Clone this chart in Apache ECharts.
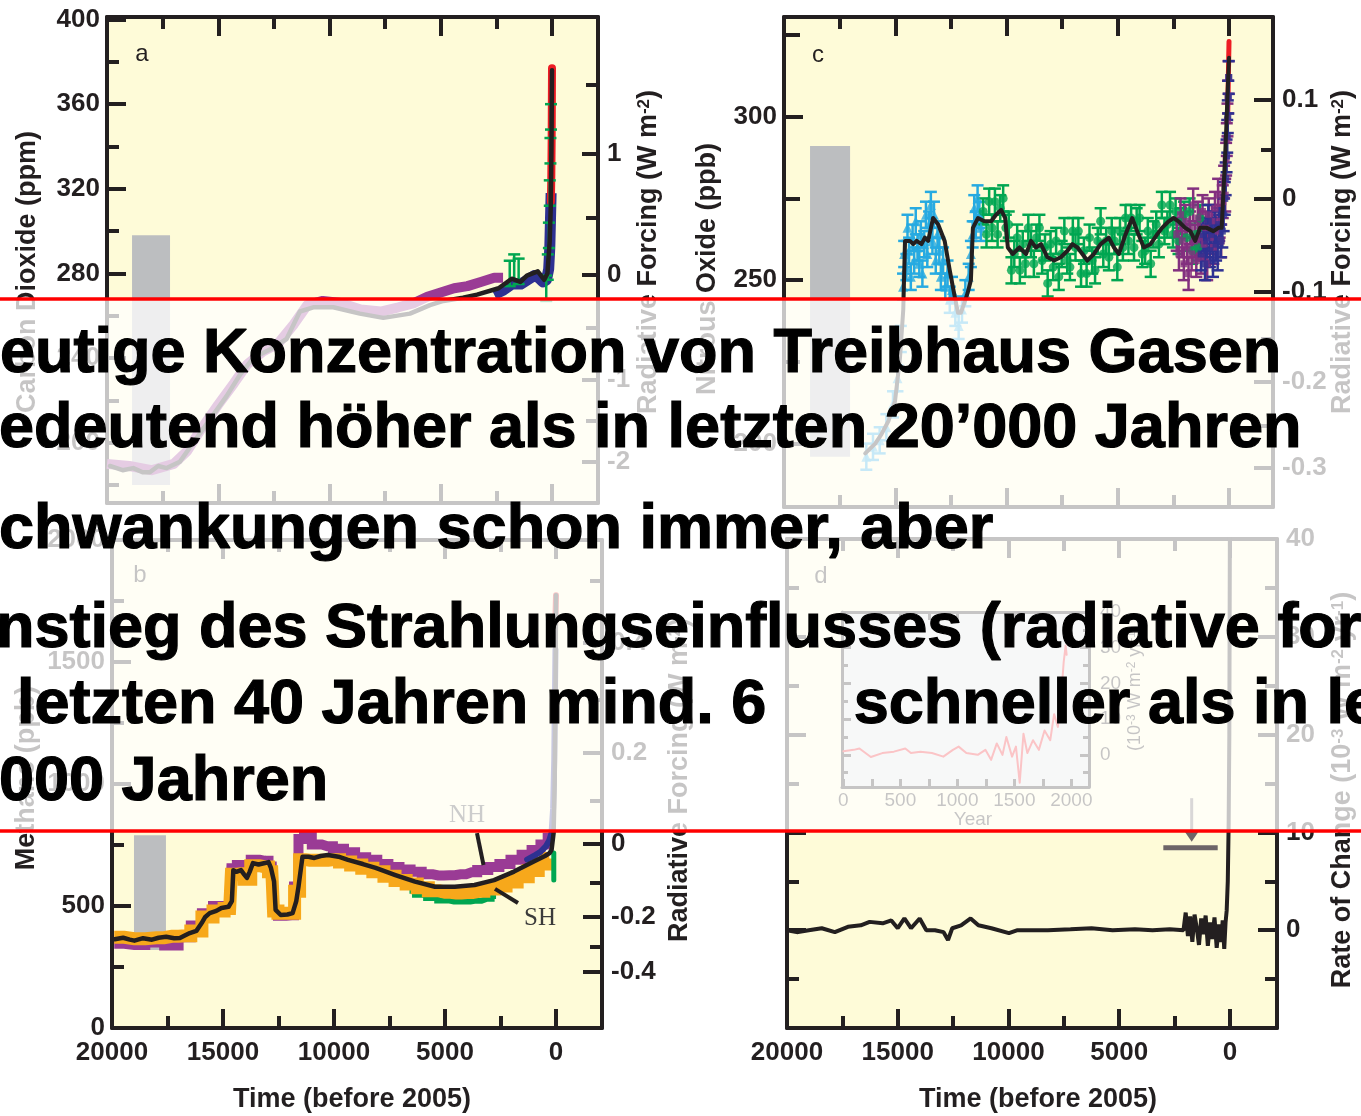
<!DOCTYPE html>
<html lang="de">
<head>
<meta charset="utf-8">
<title>Treibhausgase der letzten 20'000 Jahre</title>
<script src="https://cdn.jsdelivr.net/npm/echarts@6.0.0/dist/echarts.min.js"></script>
<style>
  html, body { margin: 0; padding: 0; background: #ffffff; }
  #chart { width: 1361px; height: 1116px; }
</style>
</head>
<body>
<div id="chart"></div>
<script>
// ---------------- tick values ----------------
const timeMajor = [0, 5000, 10000, 15000, 20000];
const timeMinor = [2500, 7500, 12500, 17500];

const co2Major = [200, 240, 280, 320, 360, 400];
const co2Minor = [180, 220, 260, 300, 340, 380];
const co2ForcingLabels = ['-2', '-1', '0', '1'];
const co2ForcingAt = [190.8, 229.6, 279.3, 336.6];
const co2ForcingMinorAt = [210.6, 254.1, 306.3, 369.3];

const n2oMajor = [200, 250, 300];
const n2oMinor = [225, 275, 325];
const n2oForcingLabels = ['-0.3', '-0.2', '-0.1', '0', '0.1'];
const n2oForcingAt = [192.6, 219.0, 246.3, 275.0, 305.2];
const n2oForcingMinorAt = [205.5, 232.2, 260.1, 289.9];

const ch4Major = [0, 500, 1000, 1500, 2000];
const ch4Minor = [250, 750, 1250, 1750];
const ch4ForcingLabels = ['-0.4', '-0.2', '0', '0.2', '0.4'];
const ch4ForcingAt = [230.7, 455, 754, 1128, 1578];
const ch4ForcingMinorAt = [333.4, 595, 932, 1344, 1832];

const rateMajor = [0, 10, 20, 30, 40];
const rateMinor = [-5, 5, 15, 25, 35];

const yearMajor = [0, 500, 1000, 1500, 2000];
const yearMinor = [250, 750, 1250, 1750];
const insetMajor = [0, 10, 20, 30, 40];
const insetMinor = [-5, 5, 15, 25, 35];

// ---------------- panel a: carbon dioxide (ppm) ----------------
const co2RangeTime = [18875, 17167];
const co2RangeValue = [180, 298];
const co2Time = [19870, 19300, 18820, 18400, 18075, 17700, 17320, 16725, 16125, 15375, 14625, 14030, 13430, 12680, 11930, 11330, 10730, 9830, 8635, 7585, 6385, 5485, 4885, 4000, 3370, 2400, 1810, 1420, 1130, 640, 350, 205, 105, 55, 25, 0];
const co2Value = [189, 187, 188, 186, 186, 189, 188, 191, 200, 211, 222, 232, 240, 244, 249, 262, 264, 264, 261, 259, 261, 265, 267, 268.5, 270, 273, 277.5, 276, 279, 281, 277, 280, 295, 312, 338, 376];
const co2PurpleTime = [20000, 19000, 18000, 17000, 16400, 15800, 15000, 14300, 13700, 13000, 12300, 11600, 11000, 10300, 9500, 8600, 7700, 6900, 6200, 5600, 5000, 4400, 3800, 3200, 2600, 2200];
const co2PurpleValue = [190, 189, 187, 190, 196, 206, 218, 228, 237, 243, 247, 256, 265, 267, 266, 263, 262, 264, 266, 269, 271, 273, 274, 276, 278, 278];
const co2BlueTime = [2600, 2200, 1800, 1400, 1100, 800, 600, 400, 250, 150, 100, 70, 40];
const co2BlueValue = [270, 272, 275, 275, 277, 279, 278, 276, 277, 282, 292, 305, 318];
const co2GreenTime = [1900, 1700, 1500, 260, 190, 140, 100, 70, 45];
const co2GreenValue = [280, 283, 281, 273, 283, 298, 318, 338, 354];
const co2RedTime = [50, 30, 15, 0];
const co2RedValue = [314, 327, 344, 377];

// ---------------- panel c: nitrous oxide (ppb) ----------------
const n2oRangeTime = [18830, 17030];
const n2oRangeValue = [196, 291];
const n2oTime = [16350, 15900, 15610, 15300, 15010, 14790, 14640, 14560, 14340, 14190, 14040, 13820, 13670, 13520, 13300, 13070, 12780, 12550, 12330, 12180, 12050, 11900, 11750, 11600, 11510, 11280, 10990, 10690, 10470, 10240, 10060, 9940, 9720, 9420, 9120, 8900, 8680, 8450, 8160, 7860, 7560, 7260, 7040, 6810, 6590, 6370, 6070, 5770, 5400, 5170, 4950, 4650, 4350, 4130, 3830, 3530, 3230, 3010, 2710, 2490, 2270, 1970, 1740, 1520, 1300, 1000, 700, 480, 330, 250, 180, 120, 60, 0];
const n2oValue = [197, 200, 203, 207, 213, 226, 241, 262, 262, 261, 262, 261, 263, 262, 269, 267, 262, 253, 245, 240, 240, 243, 246, 250, 266, 269, 268, 268, 270, 271.5, 269, 260, 258, 260, 258, 262, 260, 261, 257, 256, 257, 259, 261, 260, 258, 256, 258, 261, 263, 260, 258, 264, 269, 265, 260, 261, 264, 266, 268, 269, 268, 266, 265, 262, 266, 266, 265, 266, 266, 277, 287, 297, 308, 318];
const n2oCyanTime = [16300, 16000, 15700, 15400, 15100, 14900, 14750, 14650, 14600, 14500, 14450, 14380, 14300, 14220, 14150, 14080, 14000, 13920, 13850, 13780, 13700, 13620, 13560, 13480, 13400, 13330, 13260, 13180, 13100, 13020, 12950, 12850, 12750, 12650, 12550, 12450, 12300, 12150, 12000, 11850, 11700, 11600, 11520, 11450, 11380, 11300, 11220, 11150];
const n2oCyanValue = [196, 199, 201, 205, 212, 220, 232, 248, 258, 254, 266, 259, 251, 263, 256, 268, 260, 255, 264, 252, 261, 270, 258, 267, 273, 262, 270, 256, 264, 259, 251, 256, 248, 252, 244, 247, 240, 236, 241, 246, 251, 258, 264, 272, 267, 275, 270, 266];
const n2oGreenTime = [11050, 10900, 10780, 10650, 10520, 10400, 10280, 10150, 10030, 9900, 9780, 9650, 9520, 9400, 9270, 9150, 9020, 8900, 8770, 8650, 8520, 8400, 8270, 8150, 8020, 7900, 7770, 7650, 7520, 7400, 7270, 7150, 7020, 6900, 6770, 6650, 6520, 6400, 6270, 6150, 6020, 5900, 5770, 5650, 5520, 5400, 5270, 5150, 5020, 4900, 4770, 4650, 4520, 4400, 4270, 4150, 4020, 3900, 3770, 3650, 3520, 3400, 3270, 3150, 3020, 2900, 2770, 2650, 2520, 2400, 2270, 2150, 2020, 1900, 1770, 1650, 1520, 1400, 1300];
const n2oGreenValue = [271, 264, 274, 266, 274, 264, 272, 275, 266, 267, 253, 258, 263, 253, 261, 255, 266, 261, 255, 263, 266, 256, 260, 249, 261, 254, 262, 251, 258, 265, 256, 254, 265, 260, 265, 252, 259, 252, 263, 256, 253, 262, 268, 258, 262, 257, 265, 262, 254, 265, 260, 269, 262, 269, 260, 268, 269, 258, 259, 265, 255, 264, 267, 261, 273, 265, 267, 273, 264, 271, 262, 268, 270, 263, 271, 259, 264, 260, 269];
const n2oPurpleTime = [2350, 2250, 2180, 2100, 2030, 1960, 1890, 1820, 1750, 1680, 1610, 1540, 1470, 1400, 1330, 1260, 1190, 1120, 1050, 980, 910, 840, 770, 700, 630, 560, 490, 420, 350, 280, 220, 170, 130, 100, 70, 45, 20];
const n2oPurpleValue = [264, 258, 270, 262, 255, 268, 260, 252, 266, 258, 273, 262, 256, 269, 263, 257, 271, 261, 266, 255, 270, 263, 268, 260, 272, 265, 276, 268, 262, 274, 280, 276, 287, 293, 299, 306, 312];
const n2oBlueTime = [1250, 1150, 1080, 1000, 930, 860, 790, 720, 650, 580, 510, 440, 370, 300, 240, 190, 150, 110, 80, 55, 30, 10];
const n2oBlueValue = [258, 264, 255, 262, 268, 259, 264, 256, 266, 261, 258, 267, 262, 265, 270, 275, 281, 288, 294, 300, 306, 312];
const n2oRedTime = [60, 30, 0];
const n2oRedValue = [300, 312, 323];

// ---------------- panel b: methane (ppb) ----------------
const ch4RangeTime = [19010, 17570];
const ch4RangeValue = [320, 790];
const ch4Time = [19880, 19500, 19200, 18990, 18600, 18200, 17900, 17560, 17200, 16940, 16700, 16495, 16200, 15960, 15800, 15600, 15300, 15070, 14750, 14600, 14535, 14400, 14190, 14050, 13920, 13800, 13650, 13400, 13110, 12950, 12840, 12700, 12630, 12400, 12100, 11865, 11700, 11600, 11420, 11150, 10885, 10600, 10270, 9800, 9370, 8700, 8125, 7235, 6350, 5450, 4560, 3670, 2790, 1890, 1000, 500, 288, 200, 108, 60, 20, 0];
const ch4Value = [364, 370, 362, 358, 368, 362, 370, 374, 368, 369, 380, 389, 398, 430, 455, 471, 480, 492, 497, 520, 647, 640, 647, 630, 615, 640, 676, 670, 676, 680, 656, 600, 484, 463, 465, 471, 520, 579, 702, 702, 697, 705, 709, 702, 689, 672, 656, 627, 600, 579, 579, 586, 606, 641, 682, 705, 717, 730, 799, 1000, 1400, 1774];
const ch4ShTime = [19900, 19000, 18000, 17300, 16700, 16200, 15700, 15200, 14700, 14550, 14200, 13900, 13600, 13100, 12800, 12650, 12400, 11900, 11650, 11450, 11100, 10500, 10000, 9500, 9000, 8500, 8000, 7500, 7000, 6500, 6000, 5500, 5000, 4500, 4000, 3500, 3000, 2500, 2000, 1500, 1000, 600, 300];
const ch4ShValue = [372, 366, 370, 376, 378, 398, 455, 480, 490, 630, 632, 610, 665, 660, 640, 480, 470, 470, 560, 690, 688, 688, 690, 680, 668, 655, 640, 622, 605, 590, 575, 562, 556, 553, 555, 560, 570, 582, 598, 620, 645, 672, 695];
const ch4NhTime = [19900, 19000, 18000, 17300, 16700, 16200, 15700, 15200, 14700, 14550, 14200, 13900, 13600, 13100, 12800, 12650, 12400, 11900, 11700, 11500, 11200, 10800, 10300, 9800, 9300, 8800, 8300, 7800, 7300, 6800, 6300, 5800, 5300, 4800, 4300, 3800, 3300, 2800, 2300, 1800, 1300, 900, 500, 250];
const ch4NhValue = [345, 340, 350, 338, 372, 420, 470, 500, 505, 655, 668, 640, 690, 685, 662, 478, 460, 462, 580, 775, 790, 752, 745, 735, 720, 700, 690, 672, 660, 650, 640, 630, 625, 626, 630, 638, 648, 660, 672, 690, 710, 730, 752, 780];
const ch4GreenTime = [6600, 6100, 5600, 5100, 4600, 4100, 3600, 3100, 2700];
const ch4GreenValue = [562, 546, 533, 523, 518, 518, 522, 530, 541];
const ch4GreenRecentTime = [100, 100];
const ch4GreenRecentValue = [607, 717];
const ch4BlueTime = [1300, 1000, 700, 450, 300, 200, 130, 80, 50, 25];
const ch4BlueValue = [690, 705, 722, 745, 770, 800, 900, 1100, 1350, 1550];
const ch4RedTime = [40, 20, 0];
const ch4RedValue = [1650, 1700, 1774];
const hemiNames = ['NH', 'SH'];
const hemiTime = [4010, 720];
const hemiValue = [873, 451];
const hemiLeaders = [[3559, 799, 3266, 668], [2748, 570, 1712, 512]];

// ---------------- panel d: rate of change (1e-3 W m-2 yr-1) ----------------
const rateTime = [20000, 19500, 19020, 18430, 17840, 17250, 16670, 16270, 15680, 15290, 15000, 14700, 14400, 14010, 13710, 13320, 12930, 12730, 12540, 12140, 11710, 11360, 10770, 9980, 9590, 8220, 7200, 6250, 5300, 4290, 3500, 2720, 2100, 2000, 1900, 1800, 1700, 1600, 1500, 1400, 1300, 1200, 1100, 1000, 900, 800, 700, 600, 500, 400, 330, 260, 200, 150, 100, 60, 30, 0];
const rateValue = [0, -0.2, 0, 0.2, -0.2, 0.35, 0.5, 0.85, 0.7, 1.0, 0.2, 1.2, 0.2, 1.2, 0, 0, -0.2, -1.0, 0.2, 0.5, 1.2, 0.5, 0.2, -0.3, 0, 0, 0.1, 0.2, 0, 0.1, 0, 0.1, 0, 1.8, -0.6, 1.4, -1.2, 1.6, 0.2, -1.5, 1.2, -0.4, 1.5, -1.6, 0.8, -0.9, 1.3, -1.8, 0.6, -1.2, 1.0, -1.9, 0.8, 2.0, 5, 11, 20, 45];
const rateBarTime = [3010, 555];
const rateBarValue = 8.44;
const rateArrowTime = 1730;
const rateArrowValue = [13.5, 10.1, 9.05];

// inset: rate of change over the last two millennia
const insetYear = [0, 91, 141, 241, 342, 443, 543, 593, 676, 777, 877, 961, 1011, 1079, 1179, 1246, 1296, 1346, 1396, 1430, 1480, 1514, 1547, 1580, 1614, 1664, 1715, 1765, 1815, 1849, 1882, 1916, 1933, 1950, 1959];
const insetRate = [1.0, 1.4, 1.8, -0.6, 0.5, 0.9, 1.8, 0.5, 0.9, 0.5, -0.5, 1.4, 2.3, 0.5, 0, 1.4, -1.4, 3.2, 0, 5.0, -0.5, 2.3, -7.8, 5.9, 0.5, 4.1, 1.4, 6.8, 4.1, 11.4, 7.8, 18.7, 26, 30.6, 28];

// ---------------- styling ----------------
const INK = '#231f20';
const SANS = '"Liberation Sans", Arial, Helvetica, sans-serif';
const SERIF = '"Liberation Serif", "Times New Roman", serif';
const PLOT_BG = '#fefbd8';
const GRAY_BAR = '#bcbec0';
const C = {
  purple: '#9a3b95', darkPurple: '#83307f', blue: '#2e3192', green: '#00a651',
  cyan: '#27aae1', red: '#ed1c24', orange: '#f7a81b'
};

const zip = (a, b) => a.map((t, i) => [t, b[i]]);
const labelFont = { color: INK, fontFamily: SANS, fontWeight: 'bold', fontSize: 26 };
const tickStyle = (len, w) => ({ show: true, inside: true, length: len, lineStyle: { color: INK, width: w || 4 } });
const pickLabel = (at, labels) => v => {
  let k = 0, d = Infinity;
  at.forEach((a, i) => { const dd = Math.abs(a - v); if (dd < d) { d = dd; k = i; } });
  return labels[k];
};

const xAxis = [];
const yAxis = [];

function timeAxes(grid, min, max, withLabels) {
  const first = xAxis.length;
  const base = { type: 'value', gridIndex: grid, min, max, inverse: true, splitLine: { show: false } };
  ['bottom', 'top'].forEach(pos => {
    xAxis.push(Object.assign({}, base, {
      position: pos,
      axisLine: { show: true, onZero: false, lineStyle: { color: INK, width: 4 } },
      axisTick: Object.assign(tickStyle(19), { customValues: timeMajor }),
      axisLabel: (pos === 'bottom' && withLabels)
        ? Object.assign({ show: true, customValues: timeMajor, margin: 12, formatter: v => String(v) }, labelFont)
        : { show: false }
    }));
    xAxis.push(Object.assign({}, base, {
      position: pos,
      axisLine: { show: false, onZero: false },
      axisTick: Object.assign(tickStyle(12), { customValues: timeMinor }),
      axisLabel: { show: false }
    }));
  });
  return first;
}

function valueAxes(grid, min, max, sides) {
  const first = yAxis.length;
  const base = { type: 'value', gridIndex: grid, min, max, splitLine: { show: false } };
  ['left', 'right'].forEach(pos => {
    const cfg = sides[pos];
    yAxis.push(Object.assign({}, base, {
      position: pos,
      axisLine: { show: true, onZero: false, lineStyle: { color: INK, width: cfg.lineWidth || 4 } },
      axisTick: Object.assign(tickStyle(cfg.majorLen || 19, cfg.tickWidth), { customValues: cfg.major }),
      axisLabel: cfg.labels
        ? Object.assign({ show: true, customValues: cfg.labels, margin: cfg.margin || 7, formatter: cfg.fmt || (v => String(v)) }, cfg.font || labelFont)
        : { show: false }
    }));
    yAxis.push(Object.assign({}, base, {
      position: pos,
      axisLine: { show: false, onZero: false },
      axisTick: Object.assign(tickStyle(cfg.minorLen || 12, cfg.tickWidth), { customValues: cfg.minor }),
      axisLabel: { show: false }
    }));
  });
  return first;
}

// ---------------- grids ----------------
const grids = [
  { left: 107, top: 17, width: 491, height: 486 },   // a
  { left: 784, top: 17, width: 489, height: 490 },   // c
  { left: 112, top: 540, width: 490, height: 488 },  // b
  { left: 787, top: 539, width: 490, height: 489 },  // d
  { left: 842, top: 612, width: 247, height: 175 }   // inset in d
].map((g, i) => Object.assign({
  show: true, backgroundColor: i === 4 ? '#e1e2e4' : PLOT_BG, borderWidth: 0,
  containLabel: false, outerBoundsMode: 'none'
}, g));

// panel a
const axA = timeAxes(0, -2067, 20000, false);
const ayA = valueAxes(0, 171.5, 401.2, {
  left: { major: co2Major, minor: co2Minor, labels: co2Major },
  right: { major: co2ForcingAt, minor: co2ForcingMinorAt, labels: co2ForcingAt, fmt: pickLabel(co2ForcingAt, co2ForcingLabels), margin: 9, majorLen: 16 }
});
// panel c
const axC = timeAxes(1, -1977, 20000, false);
const ayC = valueAxes(1, 180.6, 330.5, {
  left: { major: n2oMajor, minor: n2oMinor, labels: n2oMajor, minorLen: 16 },
  right: { major: n2oForcingAt, minor: n2oForcingMinorAt, labels: n2oForcingAt, fmt: pickLabel(n2oForcingAt, n2oForcingLabels), margin: 9 }
});
// panel b
const axB = timeAxes(2, -2072, 20000, true);
const ayB = valueAxes(2, 0, 2000, {
  left: { major: ch4Major, minor: ch4Minor, labels: ch4Major },
  right: { major: ch4ForcingAt, minor: ch4ForcingMinorAt, labels: ch4ForcingAt, fmt: pickLabel(ch4ForcingAt, ch4ForcingLabels), margin: 9 }
});
// panel d
const axD = timeAxes(3, -2122, 20000, true);
const ayD = valueAxes(3, -10, 40, {
  left: { major: rateMajor, minor: rateMinor },
  right: { major: rateMajor, minor: rateMinor, labels: rateMajor, margin: 9 }
});
// inset
const insetFont = { color: INK, fontFamily: SANS, fontWeight: 'normal', fontSize: 19 };
const axI = xAxis.length;
['bottom', 'top'].forEach(pos => {
  xAxis.push({
    type: 'value', gridIndex: 4, min: -12, max: 2155, position: pos, splitLine: { show: false },
    axisLine: { show: true, onZero: false, lineStyle: { color: INK, width: 3 } },
    axisTick: Object.assign(tickStyle(8, 3), { customValues: yearMajor.concat(yearMinor) }),
    axisLabel: pos === 'bottom'
      ? Object.assign({ show: true, customValues: yearMajor, margin: 4, formatter: v => String(v) }, insetFont)
      : { show: false }
  });
});
const ayI = valueAxes(4, -9, 40, {
  left: { major: insetMajor, minor: insetMinor, majorLen: 9, minorLen: 6, lineWidth: 3, tickWidth: 3 },
  right: { major: insetMajor, minor: insetMinor, majorLen: 9, minorLen: 6, lineWidth: 3, tickWidth: 3,
           labels: insetMajor, margin: 11, font: insetFont }
});

// ---------------- series helpers ----------------
function line(xi, yi, times, values, color, width, extra) {
  return Object.assign({
    type: 'line', xAxisIndex: xi, yAxisIndex: yi, data: zip(times, values),
    symbol: 'none', silent: true, animation: false, z: 3,
    lineStyle: { color, width, join: 'round', cap: 'round' }
  }, extra || {});
}
function band(xi, yi, times, values, color, width) {
  return line(xi, yi, times, values, color, width, { step: 'middle', lineStyle: { color, width, join: 'miter', cap: 'butt' } });
}
function rangeBox(xi, yi, times, values) {
  return {
    type: 'custom', xAxisIndex: xi, yAxisIndex: yi, silent: true, clip: true, z: 1,
    data: [[times[0], times[1], values[0], values[1]]],
    renderItem: (p, api) => {
      const a = api.coord([api.value(0), api.value(3)]);
      const b = api.coord([api.value(1), api.value(2)]);
      return { type: 'rect', shape: { x: Math.min(a[0], b[0]), y: Math.min(a[1], b[1]), width: Math.abs(b[0] - a[0]), height: Math.abs(b[1] - a[1]) }, style: { fill: GRAY_BAR } };
    }
  };
}
function errorBars(xi, yi, times, values, err, color, cap, lw) {
  return {
    type: 'custom', xAxisIndex: xi, yAxisIndex: yi, silent: true, clip: true, z: 4,
    data: zip(times, values),
    renderItem: (p, api) => {
      const t = api.value(0), v = api.value(1);
      const hi = api.coord([t, v + err]);
      const lo = api.coord([t, v - err]);
      const x = hi[0];
      const st = { stroke: color, lineWidth: lw };
      return { type: 'group', children: [
        { type: 'line', shape: { x1: x, y1: hi[1], x2: x, y2: lo[1] }, style: st },
        { type: 'line', shape: { x1: x - cap, y1: hi[1], x2: x + cap, y2: hi[1] }, style: st },
        { type: 'line', shape: { x1: x - cap, y1: lo[1], x2: x + cap, y2: lo[1] }, style: st }
      ] };
    }
  };
}
function markers(xi, yi, times, values, color, symbol, size) {
  return {
    type: 'scatter', xAxisIndex: xi, yAxisIndex: yi, data: zip(times, values), silent: true, z: 4,
    symbol, symbolSize: size, itemStyle: { color }, animation: false
  };
}
function segments(xi, yi, segs, color, width) {
  return {
    type: 'custom', xAxisIndex: xi, yAxisIndex: yi, silent: true, clip: true, z: 6, data: segs,
    renderItem: (p, api) => {
      const a = api.coord([api.value(0), api.value(1)]);
      const b = api.coord([api.value(2), api.value(3)]);
      return { type: 'line', shape: { x1: a[0], y1: a[1], x2: b[0], y2: b[1] }, style: { stroke: color, lineWidth: width } };
    }
  };
}
function textMarks(xi, yi, names, times, values) {
  return {
    type: 'custom', xAxisIndex: xi, yAxisIndex: yi, silent: true, z: 6, data: zip(times, values),
    renderItem: (p, api) => {
      const c = api.coord([api.value(0), api.value(1)]);
      return { type: 'text', x: c[0], y: c[1], style: { text: names[p.dataIndex], fontFamily: SERIF, fontSize: 25, fill: '#3b3b3b', align: 'center', verticalAlign: 'middle' } };
    }
  };
}
function pointerArrow(xi, yi) {
  return {
    type: 'custom', xAxisIndex: xi, yAxisIndex: yi, silent: true, clip: true, z: 6,
    data: [[rateArrowTime, rateArrowValue[0], rateArrowValue[1], rateArrowValue[2], rateBarTime[0], rateBarTime[1], rateBarValue]],
    renderItem: (p, api) => {
      const col = '#6d6567';
      const top = api.coord([api.value(0), api.value(1)]);
      const base = api.coord([api.value(0), api.value(2)]);
      const tip = api.coord([api.value(0), api.value(3)]);
      const b0 = api.coord([api.value(4), api.value(6)]);
      const b1 = api.coord([api.value(5), api.value(6)]);
      return { type: 'group', children: [
        { type: 'line', shape: { x1: top[0], y1: top[1], x2: base[0], y2: base[1] }, style: { stroke: col, lineWidth: 3 } },
        { type: 'polygon', shape: { points: [[base[0] - 7, base[1]], [base[0] + 7, base[1]], [tip[0], tip[1]]] }, style: { fill: col } },
        { type: 'line', shape: { x1: b0[0], y1: b0[1], x2: b1[0], y2: b1[1] }, style: { stroke: col, lineWidth: 5 } }
      ] };
    }
  };
}

// ---------------- series ----------------
const series = [
  // panel a: CO2
  rangeBox(axA, ayA, co2RangeTime, co2RangeValue),
  line(axA, ayA, co2PurpleTime, co2PurpleValue, C.purple, 10, { lineStyle: { color: C.purple, width: 10, join: 'round', cap: 'butt' } }),
  line(axA, ayA, co2BlueTime, co2BlueValue, C.blue, 11, { lineStyle: { color: C.blue, width: 11, join: 'round', cap: 'butt' } }),
  errorBars(axA, ayA, co2GreenTime, co2GreenValue, 6, C.green, 6, 2.5),
  line(axA, ayA, co2RedTime, co2RedValue, C.red, 8),
  line(axA, ayA, co2Time, co2Value, INK, 4.5, { z: 5 }),

  // panel c: N2O
  rangeBox(axC, ayC, n2oRangeTime, n2oRangeValue),
  errorBars(axC, ayC, n2oCyanTime, n2oCyanValue, 4, C.cyan, 6, 2.5),
  markers(axC, ayC, n2oCyanTime, n2oCyanValue, C.cyan, 'triangle', 10),
  errorBars(axC, ayC, n2oGreenTime, n2oGreenValue, 4, C.green, 6, 2.5),
  markers(axC, ayC, n2oGreenTime, n2oGreenValue, C.green, 'circle', 9),
  errorBars(axC, ayC, n2oPurpleTime, n2oPurpleValue, 5, C.darkPurple, 6, 2.5),
  markers(axC, ayC, n2oPurpleTime, n2oPurpleValue, C.darkPurple, 'rect', 7),
  errorBars(axC, ayC, n2oBlueTime, n2oBlueValue, 5, C.blue, 6, 2.5),
  markers(axC, ayC, n2oBlueTime, n2oBlueValue, C.blue, 'rect', 7),
  line(axC, ayC, n2oRedTime, n2oRedValue, C.red, 5),
  line(axC, ayC, n2oTime, n2oValue, INK, 4, { z: 5 }),

  // panel b: CH4
  rangeBox(axB, ayB, ch4RangeTime, ch4RangeValue),
  band(axB, ayB, ch4NhTime, ch4NhValue, C.purple, 10),
  band(axB, ayB, ch4GreenTime, ch4GreenValue, C.green, 6),
  band(axB, ayB, ch4ShTime, ch4ShValue, C.orange, 13),
  line(axB, ayB, ch4GreenRecentTime, ch4GreenRecentValue, C.green, 5),
  line(axB, ayB, ch4BlueTime, ch4BlueValue, C.blue, 6),
  line(axB, ayB, ch4RedTime, ch4RedValue, C.red, 6),
  line(axB, ayB, ch4Time, ch4Value, INK, 4.5, { z: 5 }),
  segments(axB, ayB, hemiLeaders, INK, 4),
  textMarks(axB, ayB, hemiNames, hemiTime, hemiValue),

  // panel d: rate of change
  pointerArrow(axD, ayD),
  line(axD, ayD, rateTime, rateValue, INK, 4, { z: 5, lineStyle: { color: INK, width: 4, join: 'bevel', cap: 'butt' } }),

  // inset
  line(axI, ayI, insetYear, insetRate, C.red, 2)
];

// ---------------- titles, panel letters and the text band ----------------
const rich = (size, sup, weight) => ({
  n: { fontFamily: SANS, fontWeight: weight, fontSize: size, fill: INK },
  s: { fontFamily: SANS, fontWeight: weight, fontSize: sup, fill: INK, verticalAlign: 'top' }
});
function vTitle(x, y, text, size, sup, weight) {
  return { type: 'text', x, y, rotation: Math.PI / 2, z: 50, silent: true,
    style: { text, align: 'center', verticalAlign: 'middle', fill: INK, rich: rich(size, sup, weight || 'bold') } };
}
function hText(x, y, text, size, weight, align) {
  return { type: 'text', x, y, z: 50, silent: true,
    style: { text, fontFamily: SANS, fontWeight: weight || 'bold', fontSize: size, fill: INK, align: align || 'center', verticalAlign: 'middle' } };
}
const forcingTitle = '{n|Radiative Forcing (W m}{s|-2}{n|)}';

const noteLines = [
  'eutige Konzentration von Treibhaus Gasen',
  'edeutend höher als in letzten 20’000 Jahren',
  'chwankungen schon immer, aber',
  'nstieg des Strahlungseinflusses (radiative for',
  'letzten 40 Jahren mind. 6     schneller als in le',
  '000 Jahren'
];
const noteX = [0, -1, -1, -4, 17, -1];
const noteY = [355, 430, 531, 630, 706, 783];

const graphic = [
  vTitle(28, 272, '{n|Carbon Dioxide (ppm)}', 27, 17),
  vTitle(649, 252, forcingTitle, 27, 17),
  vTitle(708, 269, '{n|Nitrous Oxide (ppb)}', 27, 17),
  vTitle(1343, 252, forcingTitle, 27, 17),
  vTitle(27, 778, '{n|Methane (ppb)}', 27, 17),
  vTitle(680, 780, forcingTitle, 27, 17),
  vTitle(1343, 790, '{n|Rate of Change (10}{s|-3}{n| W m}{s|-2}{n| yr}{s|-1}{n|)}', 27, 17),
  vTitle(1135, 688, '{n|(10}{s|-3}{n| W m}{s|-2}{n| yr}{s|-1}{n|)}', 18, 12, 'normal'),
  hText(352, 1100, 'Time (before 2005)', 27),
  hText(1038, 1100, 'Time (before 2005)', 27),
  hText(973, 820, 'Year', 19, 'normal'),
  hText(142, 54, 'a', 24, 'normal'),
  hText(818, 55, 'c', 24, 'normal'),
  hText(140, 575, 'b', 24, 'normal'),
  hText(821, 576, 'd', 24, 'normal'),
  // translucent text band with red rules
  { type: 'rect', z: 100, silent: true, shape: { x: 0, y: 299, width: 1361, height: 532 }, style: { fill: 'rgba(255,255,255,0.74)' } },
  { type: 'rect', z: 101, silent: true, shape: { x: 0, y: 297.3, width: 1361, height: 3.5 }, style: { fill: '#ff0000' } },
  { type: 'rect', z: 101, silent: true, shape: { x: 0, y: 829.2, width: 1361, height: 3.5 }, style: { fill: '#ff0000' } }
].concat(noteLines.map((t, i) => ({
  type: 'text', x: noteX[i], y: noteY[i], z: 102, silent: true,
  style: { text: t, fontFamily: SANS, fontWeight: 'bold', fontSize: 63, fill: '#000000', stroke: '#000000', lineWidth: 1.2, align: 'left', verticalAlign: 'middle' }
})));

const chart = echarts.init(document.getElementById('chart'), null, { renderer: 'canvas' });
chart.setOption({
  animation: false,
  backgroundColor: '#ffffff',
  grid: grids,
  xAxis,
  yAxis,
  series,
  graphic
});
</script>
</body>
</html>
